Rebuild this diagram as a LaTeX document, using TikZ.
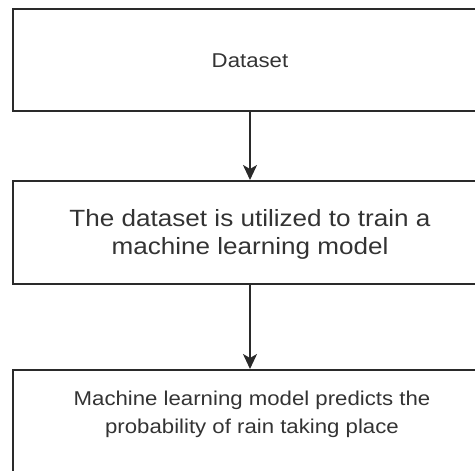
\documentclass[tikz,border=0pt]{standalone}
\usepackage{fontspec}
\setmainfont{Liberation Sans}[FakeStretch=1.11]
\usetikzlibrary{arrows.meta}
\definecolor{linec}{HTML}{2A2A2A}
\definecolor{textc}{HTML}{333333}
\begin{document}
\begin{tikzpicture}[x=1pt,y=-1pt,
  boxstyle/.style={draw=linec,line width=2pt,rectangle,minimum width=474pt,inner sep=0pt},
  labelstyle/.style={text=textc,align=center,inner sep=0pt},
  arrowstyle/.style={draw=linec,line width=2pt,-{Stealth[length=15pt,width=14pt,inset=4pt]}}]
\useasboundingbox (0,0) rectangle (475,471);
\clip (0,0) rectangle (475,471);
\node[boxstyle,minimum height=102pt] (b1) at (250,60) {};
\node[boxstyle,minimum height=103pt] (b2) at (250,232.5) {};
\node[boxstyle,minimum height=180pt] (b3) at (250,460) {};
\node[labelstyle,font=\fontsize{20}{28}\selectfont] (t1) at (250,61) {Dataset};
\node[labelstyle,font=\fontsize{23.5}{28}\selectfont] (t2) at (250,234) {The dataset is utilized to train a\\machine learning model};
\node[labelstyle,font=\fontsize{20}{28}\selectfont] (t3) at (252,414) {Machine learning model predicts the\\probability of rain taking place};
\draw[arrowstyle] (b1.south) -- (b2.north);
\draw[arrowstyle] (b2.south) -- (b3.north);
\end{tikzpicture}
\end{document}
